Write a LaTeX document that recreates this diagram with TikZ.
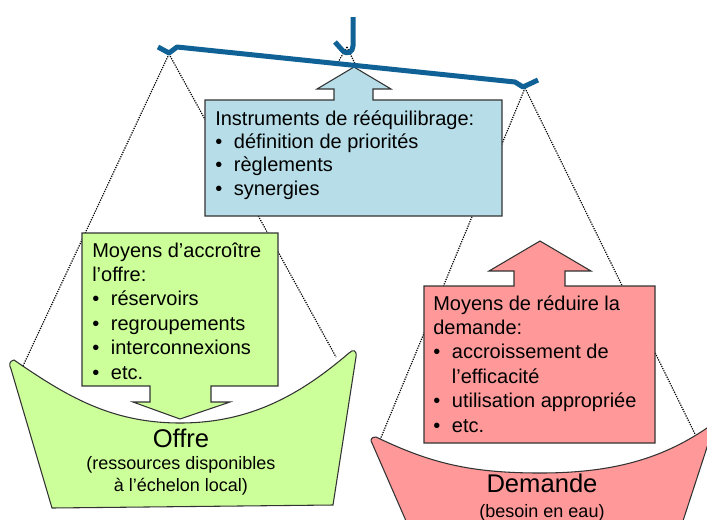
\documentclass[tikz,border=0pt]{standalone}
\usepackage{fontspec}
\setmainfont{Liberation Sans}
\definecolor{beamblue}{RGB}{16,98,150}
\definecolor{offerfill}{RGB}{204,255,153}
\definecolor{demandfill}{RGB}{255,153,153}
\definecolor{toolfill}{RGB}{183,222,232}
\newcommand\bul[1]{\makebox[14pt][l]{\textbullet}#1}
\newcommand\ind{\hspace*{14pt}}
\begin{document}
\begin{tikzpicture}[x=0.75pt,y=-0.75pt,
  cord/.style={black,line width=0.9pt,dash pattern=on 0.9pt off 0.9pt},
  shapeline/.style={draw=black!80,line width=0.8pt,line join=miter},
  boxtext/.style={anchor=base west,inner sep=0pt},
  pantitle/.style={anchor=base,inner sep=0pt,font=\fontsize{19.2}{20}\selectfont},
  pansub/.style={anchor=base,inner sep=0pt,align=center,font=\fontsize{13.5}{16.9}\selectfont}]
\useasboundingbox (0,0) rectangle (707,519);
\clip (0,0) rectangle (707,519);

% suspension points
\coordinate (lhook) at (169,54);
\coordinate (rhook) at (525,88);
\coordinate (chook) at (347,47);
\coordinate (lpanL) at (22,368);
\coordinate (lpanR) at (336,357);
\coordinate (rpanL) at (380,440);
\coordinate (rpanR) at (695,434);
\coordinate (cL) at (337,64);
\coordinate (cR) at (357,68);

% cords
\draw[cord] (lhook) -- (lpanL);
\draw[cord] (lhook) -- (lpanR);
\draw[cord] (rhook) -- (rpanL);
\draw[cord] (rhook) -- (rpanR);
\draw[cord] (chook) -- (cL);
\draw[cord] (chook) -- (cR);

% supply pan
\draw[shapeline,fill=offerfill]
  (14,360) .. controls (9,361) and (9,365) .. (11,369)
  -- (52,508) -- (333,505) -- (356,357)
  .. controls (357,350) and (353,349) .. (349,353)
  .. controls (300,395) and (250,423) .. (180,423)
  .. controls (110,423) and (65,395) .. (14,360) -- cycle;

% demand pan
\draw[shapeline,fill=demandfill]
  (376,437) .. controls (371,437) and (370,440) .. (372,443)
  -- (410,530) -- (680,530) -- (712,432) -- (707,428)
  .. controls (660,460) and (610,473) .. (540,473)
  .. controls (470,473) and (430,463) .. (376,437) -- cycle;

% balancing instruments
\draw[shapeline,fill=toolfill]
  (205,100) -- (334,100) -- (334,89) -- (317,89) -- (354,67) -- (391,89)
  -- (373,89) -- (373,100) -- (502,100) -- (502,216) -- (205,216) -- cycle;

% means of increasing supply
\draw[shapeline,fill=offerfill]
  (82,233) -- (278,233) -- (278,386) -- (211,386) -- (211,402) -- (230,402)
  -- (180,419) -- (133,402) -- (150,402) -- (150,386) -- (82,386) -- cycle;

% means of reducing demand
\draw[shapeline,fill=demandfill]
  (424,286) -- (514,286) -- (514,271) -- (489,271) -- (540,241) -- (591,271)
  -- (565,271) -- (565,286) -- (655,286) -- (655,443) -- (424,443) -- cycle;

% beam and central hanger
\draw[beamblue,line width=3.75pt,line join=round,line cap=butt]
  (158,47) -- (169,53) -- (177,47) -- (515,82) -- (523,87) -- (538,80);
\draw[beamblue,line width=3.75pt,line join=round]
  (353,17) -- (353,46) .. controls (353,52) and (347,55) .. (343,51) -- (335,42);

% texts
\node[boxtext] (tooltxt) at (215,125) {\parbox[t]{290pt}{\fontsize{15}{17.6}\selectfont
  Instruments de rééquilibrage:\\
  \bul{définition de priorités}\\
  \bul{règlements}\\
  \bul{synergies}}};
\node[boxtext] (offertxt) at (92,257) {\parbox[t]{190pt}{\fontsize{15}{18.3}\selectfont
  Moyens d’accroître\\
  l’offre:\\
  \bul{réservoirs}\\
  \bul{regroupements}\\
  \bul{interconnexions}\\
  \bul{etc.}}};
\node[boxtext] (demandtxt) at (433,310) {\parbox[t]{220pt}{\fontsize{15}{18.3}\selectfont
  Moyens de réduire la\\
  demande:\\
  \bul{accroissement de}\\
  \ind l’efficacité\\
  \bul{utilisation appropriée}\\
  \bul{etc.}}};

\node[pantitle] (offre) at (181,447) {Offre};
\node[pansub] (offresub) at (181,469) {\parbox[t]{250pt}{\centering\fontsize{13.5}{16.9}\selectfont
  (ressources disponibles\\ à l’échelon local)}};
\node[pantitle] (demande) at (542,492) {Demande};
\node[pansub] (demandesub) at (542,517) {(besoin en eau)};
\end{tikzpicture}
\end{document}
